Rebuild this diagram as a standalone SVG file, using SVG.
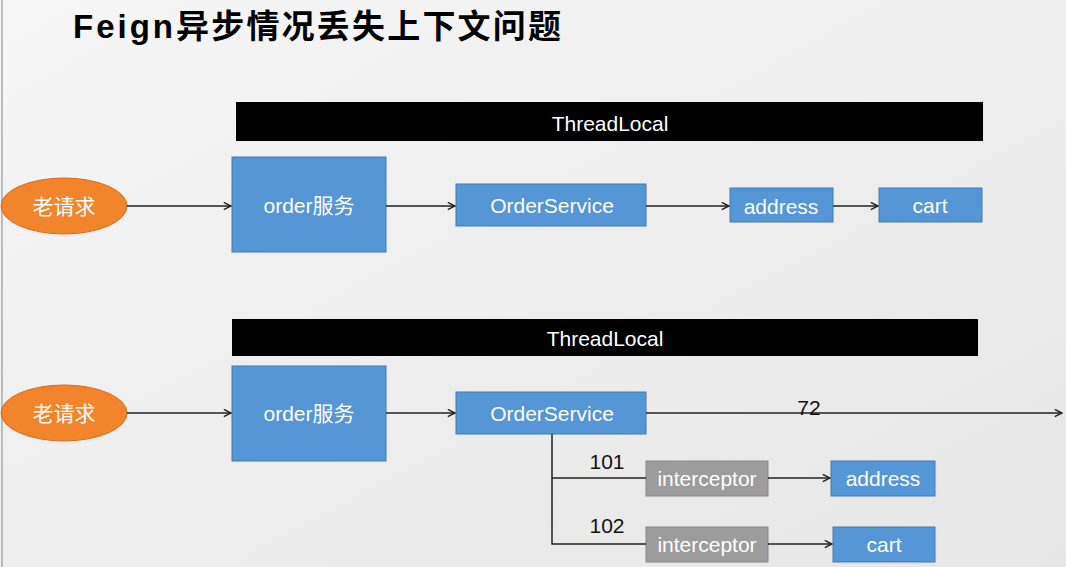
<svg xmlns="http://www.w3.org/2000/svg" width="1066" height="567" viewBox="0 0 1066 567">
<defs>
<linearGradient id="bg" x1="0" y1="0" x2="1" y2="1">
<stop offset="0" stop-color="#f6f6f6"/>
<stop offset="1" stop-color="#e6e6e6"/>
</linearGradient>
<marker id="arr" viewBox="0 0 10 10" refX="9" refY="5" markerWidth="9" markerHeight="9" markerUnits="userSpaceOnUse" orient="auto">
<path d="M1,1 L9,5 L1,9" fill="none" stroke="#222" stroke-width="1.6"/>
</marker>
<style>
.bar{fill:#000}
.bartxt{fill:#fff;font-family:"Liberation Sans",Arial,sans-serif;font-size:21px;text-anchor:middle;dominant-baseline:central}
.box{fill:#5596d6;stroke:#4479b3;stroke-width:1}
.gbox{fill:#9c9c9c;stroke:#878787;stroke-width:1}
.ell{fill:#f2842c;stroke:#d46a1c;stroke-width:1}
.t{fill:#fff;font-family:"Liberation Sans","Noto Sans CJK SC",sans-serif;font-size:21px;text-anchor:middle;dominant-baseline:central}
.lbl{fill:#111;font-family:"Liberation Sans",Arial,sans-serif;font-size:21px;text-anchor:middle}
.ln{stroke:#222;stroke-width:1.5;fill:none}
</style>
</defs>
<rect width="1066" height="567" fill="url(#bg)"/>
<line x1="2" y1="0" x2="2" y2="567" stroke="#bcbcbc" stroke-width="2"/>
<text x="73" y="38" font-family="'Liberation Sans','Noto Sans CJK SC',sans-serif" font-size="33" font-weight="bold" fill="#000"><tspan letter-spacing="3">Feign</tspan><tspan letter-spacing="2.2">异步情况丢失上下文问题</tspan></text>

<g id="tl1"><rect class="bar" x="236" y="102" width="747" height="39"/><text class="bartxt" x="610" y="123">ThreadLocal</text></g>
<g id="req1"><ellipse class="ell" cx="64" cy="206" rx="63" ry="28"/><text class="t" x="64" y="206">老请求</text></g>
<g id="order1"><rect class="box" x="232" y="157" width="154" height="95"/><text class="t" x="309" y="205">order服务</text></g>
<g id="os1"><rect class="box" x="456" y="184" width="190" height="42"/><text class="t" x="552" y="205">OrderService</text></g>
<g id="addr1"><rect class="box" x="730" y="188" width="103" height="34"/><text class="t" x="781" y="206">address</text></g>
<g id="cart1"><rect class="box" x="879" y="188" width="103" height="34"/><text class="t" x="930" y="205">cart</text></g>

<g id="tl2"><rect class="bar" x="232" y="319" width="746" height="37"/><text class="bartxt" x="605" y="338">ThreadLocal</text></g>
<g id="req2"><ellipse class="ell" cx="64" cy="413" rx="63" ry="28"/><text class="t" x="64" y="413">老请求</text></g>
<g id="order2"><rect class="box" x="232" y="366" width="154" height="95"/><text class="t" x="309" y="413">order服务</text></g>
<g id="os2"><rect class="box" x="456" y="392" width="190" height="42"/><text class="t" x="552" y="413">OrderService</text></g>
<g id="int1"><rect class="gbox" x="646" y="461" width="122" height="35"/><text class="t" x="707" y="478">interceptor</text></g>
<g id="addr2"><rect class="box" x="831" y="461" width="104" height="35"/><text class="t" x="883" y="478">address</text></g>
<g id="int2"><rect class="gbox" x="646" y="527" width="122" height="35"/><text class="t" x="707" y="544">interceptor</text></g>
<g id="cart2"><rect class="box" x="833" y="527" width="102" height="35"/><text class="t" x="884" y="544">cart</text></g>

<g id="connectors">
<line class="ln" x1="127" y1="206" x2="231" y2="206" marker-end="url(#arr)"/>
<line class="ln" x1="386" y1="206" x2="455" y2="206" marker-end="url(#arr)"/>
<line class="ln" x1="646" y1="206" x2="729" y2="206" marker-end="url(#arr)"/>
<line class="ln" x1="833" y1="206" x2="878" y2="206" marker-end="url(#arr)"/>
<line class="ln" x1="127" y1="413" x2="231" y2="413" marker-end="url(#arr)"/>
<line class="ln" x1="386" y1="413" x2="455" y2="413" marker-end="url(#arr)"/>
<line class="ln" x1="646" y1="413" x2="1062" y2="413" marker-end="url(#arr)"/>
<text class="lbl" x="809" y="415">72</text>
<polyline class="ln" points="552,434 552,544 646,544"/>
<line class="ln" x1="552" y1="478" x2="646" y2="478"/>
<text class="lbl" x="607" y="469">101</text>
<text class="lbl" x="607" y="533">102</text>
<line class="ln" x1="768" y1="478" x2="830" y2="478" marker-end="url(#arr)"/>
<line class="ln" x1="768" y1="544" x2="832" y2="544" marker-end="url(#arr)"/>
</g>
</svg>
